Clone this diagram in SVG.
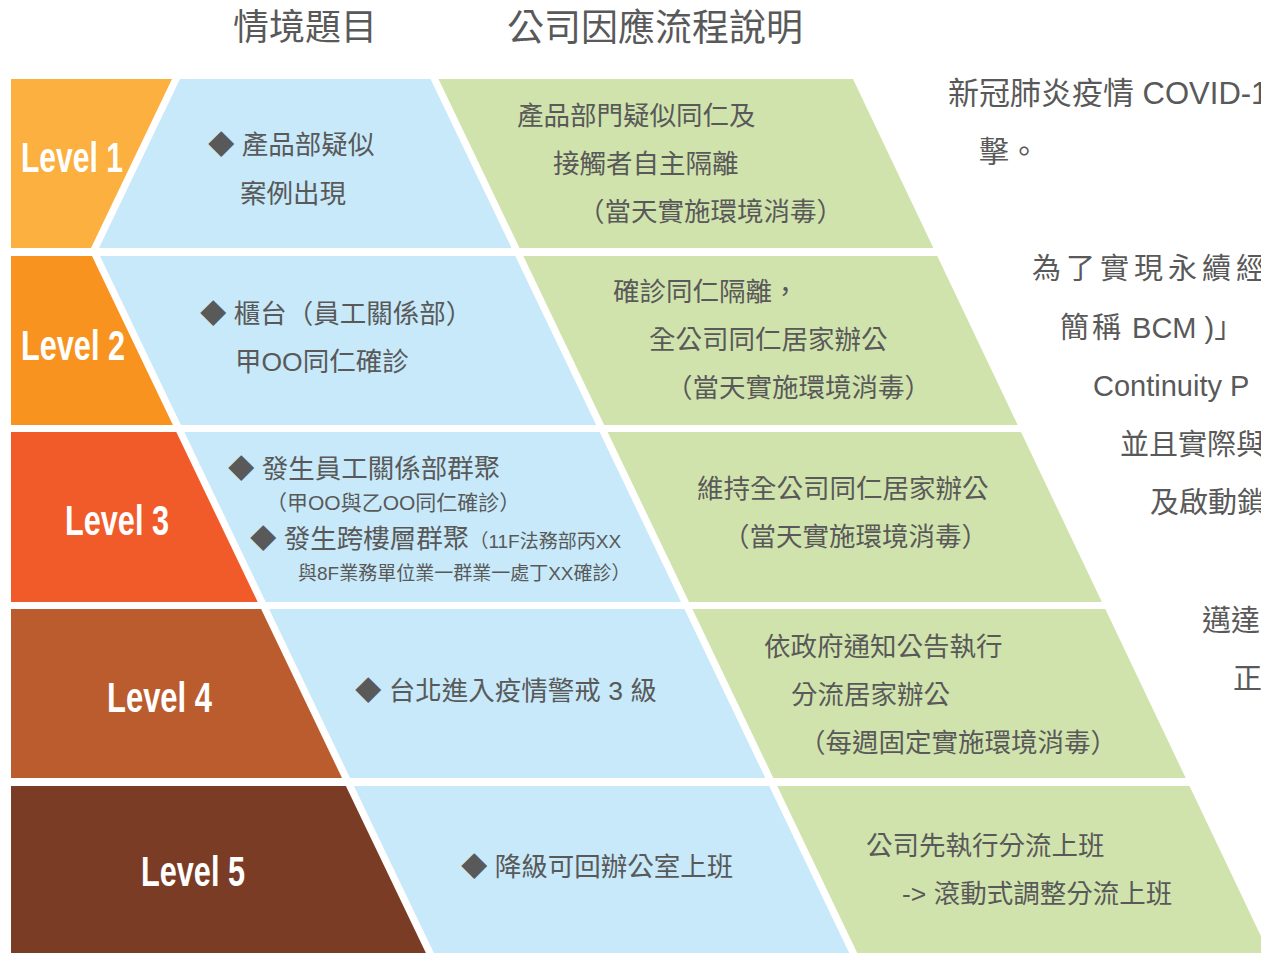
<svg xmlns="http://www.w3.org/2000/svg" width="1261" height="953" viewBox="0 0 1261 953">
<style>
.t{font-family:"Liberation Sans","Noto Sans CJK TC","Noto Sans CJK SC",sans-serif;fill:#595959}
.h{font-family:"Noto Sans CJK TC","Noto Sans CJK SC",sans-serif;fill:#595959}
.lv{font-family:"Liberation Sans",Arial,sans-serif;font-weight:bold;fill:#fff}
.r{font-family:"Liberation Sans","Noto Sans CJK TC","Noto Sans CJK SC",sans-serif;fill:#595959}
.blue{fill:#C7E9F9}
.green{fill:#D1E3AD}
</style>
<rect width="1261" height="953" fill="#fff"/>
<g id="headers">
<text class="h" x="233" y="40" font-size="36">情境題目</text>
<text class="h" x="507" y="41" font-size="37">公司因應流程說明</text>
</g>
<g id="level1">
<polygon points="11,79 172,79 91,248 11,248" fill="#FBB040"/>
<text class="lv" x="21" y="172" font-size="42" textLength="102" lengthAdjust="spacingAndGlyphs">Level 1</text>
</g>
<g id="scenario1">
<polygon class="blue" points="180,79 430.5,79 511.5,248 99,248"/>
<text class="t" x="208" y="154" font-size="26.5">◆ 產品部疑似</text>
<text class="t" x="240" y="203" font-size="26.5">案例出現</text>
</g>
<g id="response1">
<polygon class="green" points="438.5,79 853,79 933.4,248 519.5,248"/>
<text class="t" x="517" y="125" font-size="26.5">產品部門疑似同仁及</text>
<text class="t" x="553" y="173" font-size="26.5">接觸者自主隔離</text>
<text class="t" x="578" y="221" font-size="26.5">（當天實施環境消毒）</text>
</g>
<g id="level2">
<polygon points="11,256 92,256 172.9,425 11,425" fill="#F7931E"/>
<text class="lv" x="21" y="360" font-size="42" textLength="104" lengthAdjust="spacingAndGlyphs">Level 2</text>
</g>
<g id="scenario2">
<polygon class="blue" points="100,256 515.3,256 596.2,425 180.9,425"/>
<text class="t" x="200" y="323" font-size="26.5">◆ 櫃台（員工關係部）</text>
<text class="t" x="235" y="371" font-size="26.5">甲OO同仁確診</text>
</g>
<g id="response2">
<polygon class="green" points="523.3,256 937.3,256 1017.7,425 604.2,425"/>
<text class="t" x="613" y="301" font-size="26.5">確診同仁隔離，</text>
<text class="t" x="649" y="349" font-size="26.5">全公司同仁居家辦公</text>
<text class="t" x="666" y="397" font-size="26.5">（當天實施環境消毒）</text>
</g>
<g id="level3">
<polygon points="11,432 176.3,432 257.7,602 11,602" fill="#F15A29"/>
<text class="lv" x="65" y="535" font-size="42" textLength="104" lengthAdjust="spacingAndGlyphs">Level 3</text>
</g>
<g id="scenario3">
<polygon class="blue" points="184.3,432 599.6,432 681,602 265.7,602"/>
<text class="t" x="228" y="478" font-size="26.5">◆ 發生員工關係部群聚</text>
<text class="t" x="266" y="510" font-size="21">（甲OO與乙OO同仁確診）</text>
<text class="t" x="250" y="548" font-size="26.5">◆ 發生跨樓層群聚<tspan font-size="19">（11F法務部丙XX</tspan></text>
<text class="t" x="298" y="580" font-size="19">與8F業務單位業一群業一處丁XX確診）</text>
</g>
<g id="response3">
<polygon class="green" points="607.6,432 1021,432 1101.9,602 689,602"/>
<text class="t" x="697" y="498" font-size="26.5">維持全公司同仁居家辦公</text>
<text class="t" x="723" y="546" font-size="26.5">（當天實施環境消毒）</text>
</g>
<g id="level4">
<polygon points="11,609 261.1,609 342,778 11,778" fill="#BA5C2E"/>
<text class="lv" x="107" y="712" font-size="42" textLength="105" lengthAdjust="spacingAndGlyphs">Level 4</text>
</g>
<g id="scenario4">
<polygon class="blue" points="269.1,609 684.4,609 765.3,778 350,778"/>
<text class="t" x="355" y="700" font-size="26.5">◆ 台北進入疫情警戒 3 級</text>
</g>
<g id="response4">
<polygon class="green" points="692.4,609 1105.3,609 1185.7,778 773.3,778"/>
<text class="t" x="764" y="656" font-size="26.5">依政府通知公告執行</text>
<text class="t" x="791" y="704" font-size="26.5">分流居家辦公</text>
<text class="t" x="799" y="752" font-size="26.5">（每週固定實施環境消毒）</text>
</g>
<g id="level5">
<polygon points="11,786 345.9,786 425.9,953 11,953" fill="#7A3C24"/>
<text class="lv" x="141" y="886" font-size="42" textLength="104" lengthAdjust="spacingAndGlyphs">Level 5</text>
</g>
<g id="scenario5">
<polygon class="blue" points="353.9,786 769.2,786 849.2,953 433.9,953"/>
<text class="t" x="461" y="876" font-size="26.5">◆ 降級可回辦公室上班</text>
</g>
<g id="response5">
<polygon class="green" points="777.2,786 1189.5,786 1269,953 857.2,953"/>
<text class="t" x="866" y="855" font-size="26.5">公司先執行分流上班</text>
<text class="t" x="902" y="903" font-size="26.5">-&gt; 滾動式調整分流上班</text>
</g>
<g id="side-text">
<text class="r" x="948" y="104" font-size="31">新冠肺炎疫情 COVID-1</text>
<text class="r" x="979" y="162" font-size="30">擊。</text>
<text class="r" x="1032" y="279" font-size="29" letter-spacing="5">為了實現永續經</text>
<text class="r" x="1060" y="338" font-size="29"><tspan letter-spacing="3">簡稱</tspan> BCM )」</text>
<text class="r" x="1093" y="396" font-size="29">Continuity P</text>
<text class="r" x="1120" y="455" font-size="29">並且實際與</text>
<text class="r" x="1150" y="513" font-size="29">及啟動鎖</text>
<text class="r" x="1202" y="631" font-size="29">邁達</text>
<text class="r" x="1233" y="689" font-size="29">正</text>
</g>
</svg>
